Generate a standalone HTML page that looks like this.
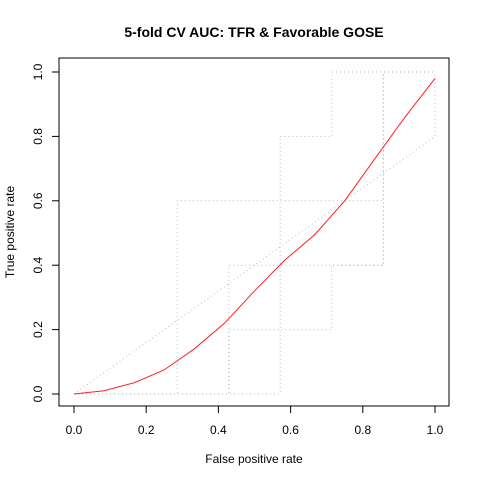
<!DOCTYPE html>
<html><head><meta charset="utf-8"><style>
html,body{margin:0;padding:0;background:#fff;}
svg{display:block;font-family:"Liberation Sans",Arial,sans-serif;}
</style></head><body>
<svg id="chart" width="480" height="480" viewBox="0 0 480 480" xmlns="http://www.w3.org/2000/svg">
<text x="254" y="37" text-anchor="middle" font-size="14" font-weight="bold">5-fold CV AUC: TFR &amp; Favorable GOSE</text>
<rect x="59" y="58" width="390" height="348" fill="none" stroke="#000" stroke-width="1"/>
<g id="grey"></g>
<g id="axes"></g>
<text x="254" y="463" text-anchor="middle" font-size="12">False positive rate</text>
<text x="0" y="0" transform="translate(14,232) rotate(-90)" text-anchor="middle" font-size="12">True positive rate</text>
</svg>
<script>
const xTicks=[0,0.2,0.4,0.6,0.8,1.0];
const yTicks=[0,0.2,0.4,0.6,0.8,1.0];
const fold1X=[0,0.286,0.286,0.857,0.857,1];
const fold1Y=[0,0,0.6,0.6,1,1];
const fold2X=[0,0.429,0.429,0.857,0.857,1];
const fold2Y=[0,0,0.4,0.4,1,1];
const fold3X=[0,0.571,0.571,0.714,0.714,1];
const fold3Y=[0,0,0.8,0.8,1,1];
const fold4X=[0,0.429,0.429,0.714,0.714,0.857,0.857,1];
const fold4Y=[0,0,0.2,0.2,0.4,0.4,1,1];
const fold5X=[0,1,1];
const fold5Y=[0,0.8,1];
const avgX=[0,0.083,0.167,0.25,0.333,0.417,0.5,0.583,0.667,0.75,0.833,0.917,1];
const avgY=[0,0.01,0.035,0.075,0.14,0.22,0.32,0.415,0.495,0.6,0.73,0.86,0.98];
const sx=v=>74+v*361, sy=v=>394-v*322;
const NS="http://www.w3.org/2000/svg";
const svg=document.getElementById('chart'), g=document.getElementById('grey'), ax=document.getElementById('axes');
function mk(t,a,p){const e=document.createElementNS(NS,t);for(const k in a)e.setAttribute(k,a[k]);(p||svg).appendChild(e);return e;}
const folds=[[fold1X,fold1Y],[fold2X,fold2Y],[fold3X,fold3Y],[fold4X,fold4Y],[fold5X,fold5Y]];
folds.forEach((f,i)=>{
 const pts=f[0].map((x,j)=>sx(x)+','+sy(f[1][j])).join(' ');
 const e=mk('polyline',{points:pts,fill:'none',stroke:'#aaa','stroke-width':1,'stroke-dasharray':'1,3',opacity:0.8},g);
 
 
});
const red=mk('polyline',{points:avgX.map((x,j)=>sx(x)+','+sy(avgY[j])).join(' '),fill:'none',stroke:'#ff2020','stroke-width':1});


const xa=mk('line',{x1:sx(0),x2:sx(1),y1:406,y2:406,stroke:'#000'},ax);


xTicks.forEach(v=>{
 const t=mk('line',{x1:sx(v),x2:sx(v),y1:406,y2:413,stroke:'#000'},ax);
 
 
 const l=mk('text',{x:sx(v),y:434,'text-anchor':'middle','font-size':12},ax);
 l.textContent=v.toFixed(1);
 
 
});
const ya=mk('line',{x1:59,x2:59,y1:sy(0),y2:sy(1),stroke:'#000'},ax);


yTicks.forEach(v=>{
 const t=mk('line',{x1:52,x2:59,y1:sy(v),y2:sy(v),stroke:'#000'},ax);
 
 
 const l=mk('text',{x:0,y:0,transform:'translate(42,'+sy(v)+') rotate(-90)','text-anchor':'middle','font-size':12},ax);
 l.textContent=v.toFixed(1);
 
 
});
</script>
</body></html>
